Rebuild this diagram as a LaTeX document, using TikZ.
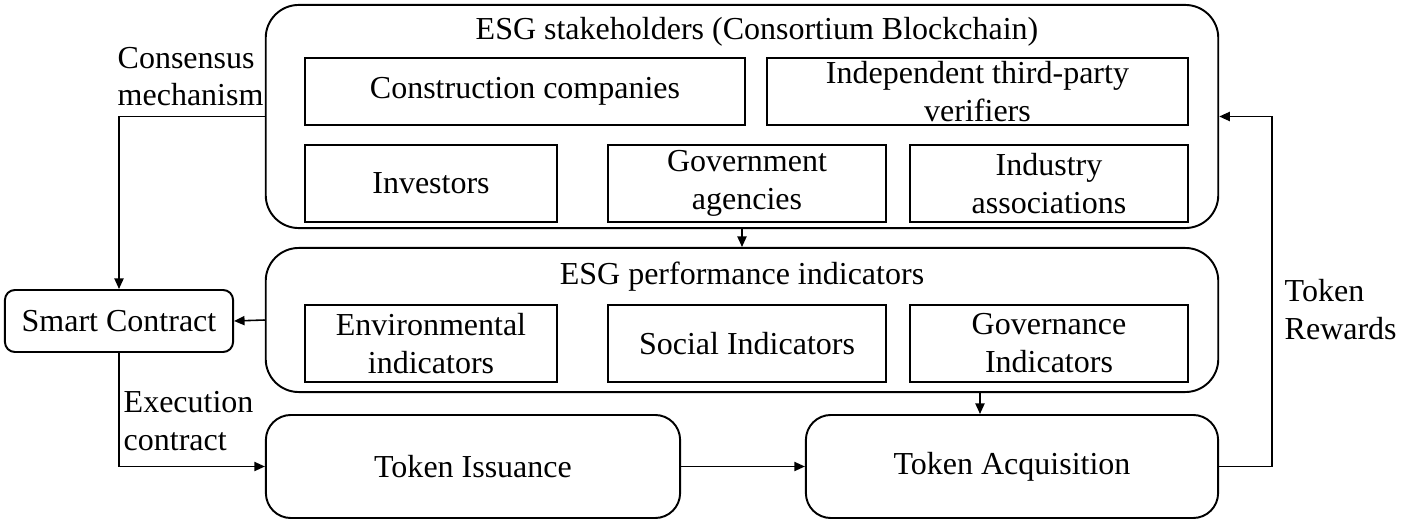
\documentclass[tikz,border=0pt]{standalone}
\usepackage{fontspec}
\setmainfont{Liberation Serif}
\usetikzlibrary{arrows.meta}

\begin{document}
\begin{tikzpicture}[x=0.01cm,y=-0.01cm,
    font=\fontsize{9.1}{10.8}\selectfont,
    group/.style={draw,line width=0.55pt,rounded corners=0.33cm,inner sep=0pt},
    item/.style={draw,line width=0.55pt,inner sep=0pt,align=center},
    flow/.style={draw,line width=0.45pt,-{Triangle[length=3pt,width=2.6pt]}},
    lbl/.style={align=left,inner sep=0pt}]
        \useasboundingbox (0,0) rectangle (1417,521);
        % stakeholders
        \node [group,minimum width=9.52cm,minimum height=2.23cm] (stake) at (742,116.5) {};
        \node (staketitle) at (757,32) {ESG stakeholders (Consortium Blockchain)};
        \node [item,minimum width=4.4cm,minimum height=0.67cm] (cons) at (525,91.5) {Construction companies};
        \node [item,minimum width=4.21cm,minimum height=0.67cm] (indep) at (977.5,91.5) {Independent third-party\\verifiers};
        \node [item,minimum width=2.52cm,minimum height=0.77cm] (inv) at (431,183.5) {Investors};
        \node [item,minimum width=2.78cm,minimum height=0.77cm] (gov) at (747,183.5) {Government\\agencies};
        \node [item,minimum width=2.78cm,minimum height=0.77cm] (ind) at (1049,183.5) {Industry\\associations};
        % indicators
        \node [group,minimum width=9.52cm,minimum height=1.44cm] (perf) at (742,320) {};
        \node (perftitle) at (742,277) {ESG performance indicators};
        \node [item,minimum width=2.52cm,minimum height=0.77cm] (env) at (431,343.5) {Environmental\\indicators};
        \node [item,minimum width=2.78cm,minimum height=0.77cm] (soc) at (747,343.5) {Social Indicators};
        \node [item,minimum width=2.78cm,minimum height=0.77cm] (govi) at (1049,343.5) {Governance\\Indicators};
        % contract and tokens
        \node [group,rounded corners=0.1cm,minimum width=2.28cm,minimum height=0.62cm] (smart) at (119,321) {Smart Contract};
        \node [group,rounded corners=0.25cm,minimum width=4.14cm,minimum height=1.03cm] (issue) at (473,466.5) {Token Issuance};
        \node [group,rounded corners=0.25cm,minimum width=4.12cm,minimum height=1.03cm] (acq) at (1012,466.5) {Token Acquisition};
        \coordinate (drop) at (980,0);
        \coordinate (back) at (1272,0);
        % connectors
        \draw [flow] (stake.south) -- (perf.north);
        \draw [flow] (perf.west) -- (smart.east);
        \draw [flow] (stake.west) -| (smart.north);
        \draw [flow] (smart.south) |- (issue.west);
        \draw [flow] (issue.east) -- (acq.west);
        \draw [flow] (drop |- perf.south) -- (drop |- acq.north);
        \draw [flow] (acq.east) -- (acq.east -| back) -- (back |- stake.east) -- (stake.east);
        % labels
        \node [lbl,anchor=south west] (conslbl) at (117,107) {Consensus\\mechanism};
        \node [lbl,anchor=north west] (execlbl) at (123,391) {Execution\\contract};
        \node [lbl,anchor=west] (rewlbl) at (1284,310) {Token\\Rewards};
\end{tikzpicture}
\end{document}
